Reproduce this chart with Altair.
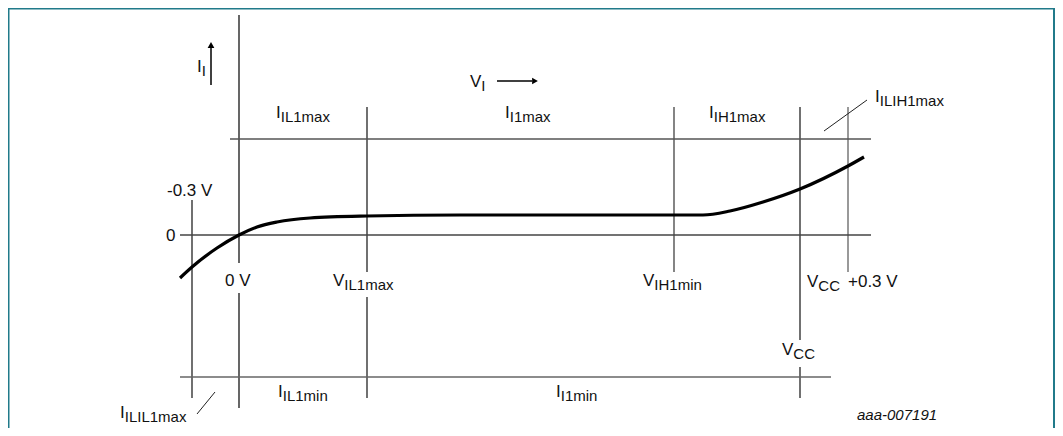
import altair as alt
import pandas as pd

# Schematic units: x = distance right of the 0 V line, y = distance above zero current
# ---- input characteristic curve ----
curve_v = [-59, -47, -22, 0, 18, 38, 71, 128, 221, 381, 464, 491, 524, 561, 609, 625]
curve_i = [-43, -32, -13, 0, 8, 13, 17, 19, 20, 20, 20, 24, 33, 46, 69, 78]

# ---- vertical reference lines (voltage levels) ----
vline_x = [-47, 0, 0, 128, 128, 435, 561, 561, 609]
vline_y1 = [35, 220, -58, 128, -62, 128, 128, -132, 128]
vline_y2 = [-163, -28, -173, -37, -163, -37, -105, -163, -37]
vline_c = ["#111111", "#000000", "#000000", "#111111", "#111111", "#333333", "#111111", "#111111", "#555555"]

# ---- horizontal reference lines (current levels) ----
hline_y = [96, 0, -142]
hline_x1 = [-9, -59, -59]
hline_x2 = [632, 632, 592]
hline_c = ["#555555", "#444444", "#666666"]

# ---- leader lines ----
lead_x1 = [585, -42]
lead_y1 = [104, -179]
lead_x2 = [628, -24]
lead_y2 = [135, -157]

# ---- labels with subscripts ----
lab_main = ["I", "V", "I", "I", "I", "I", "V", "V", "V", "V", "I", "I", "I"]
lab_sub = ["I", "I", "IL1max", "I1max", "IH1max", "ILIH1max", "IL1max", "IH1min",
           "CC", "CC", "IL1min", "I1min", "ILIL1max"]
lab_x = [-42, 231, 37, 266, 470, 636, 94, 404, 568, 543, 39, 317, -119]
lab_y = [163, 148, 117, 117, 117, 133, -51, -51, -52, -120, -162, -162, -183]

# ---- plain labels ----
txt = ["-0.3 V", "0", "0 V", "+0.3 V"]
txt_x = [-72, -73, -14, 609]
txt_y = [39, -6, -51, -52]

# ---- arrows ----
arrow_x1 = [-28, 258]
arrow_y1 = [150, 154]
arrow_x2 = [-28, 293]
arrow_y2 = [187, 154]
head_x = [-28, 296]
head_y = [190, 154]
head_shape = ["triangle-up", "triangle-right"]

FONT = "Liberation Sans"
MAIN = 17
SUB = 15
W = {"I": 0.278, "V": 0.667}

xs = alt.Scale(domain=[-231, 816], nice=False, zero=False)
ys = alt.Scale(domain=[-193, 227], nice=False, zero=False)

def X(f):
    return alt.X(f, type="quantitative", scale=xs, axis=None)

def Y(f):
    return alt.Y(f, type="quantitative", scale=ys, axis=None)

curve = pd.DataFrame({"v": curve_v, "i": curve_i, "o": range(len(curve_v))})
vl = pd.DataFrame({"x": vline_x, "y": vline_y1, "y2": vline_y2, "c": vline_c})
hl = pd.DataFrame({"y": hline_y, "x": hline_x1, "x2": hline_x2, "c": hline_c})
ld = pd.DataFrame({"x": lead_x1, "y": lead_y1, "x2": lead_x2, "y2": lead_y2})
ar = pd.DataFrame({"x": arrow_x1, "y": arrow_y1, "x2": arrow_x2, "y2": arrow_y2})
hd = pd.DataFrame({"x": head_x, "y": head_y, "s": head_shape})
frame = pd.DataFrame({"x": [-231, -231, 815.5], "y": [227, 227, 227],
                      "x2": [-231, 815.5, 815.5], "y2": [-193, 227, -193]})

mains = pd.DataFrame({"t": lab_main, "x": lab_x, "y": lab_y})
subs = pd.DataFrame({
    "t": lab_sub,
    "x": [x + W[m] * MAIN for x, m in zip(lab_x, lab_main)],
    "y": [y - 4 for y in lab_y],
})
plain = pd.DataFrame({"t": txt, "x": txt_x, "y": txt_y})
code = pd.DataFrame({"t": ["aaa-007191"], "x": [618], "y": [-185]})

frame_layer = alt.Chart(frame).mark_rule(color="#217a8a", strokeWidth=3).encode(
    x=X("x"), y=Y("y"), x2="x2", y2="y2")
v_layer = alt.Chart(vl).mark_rule(strokeWidth=1.2).encode(
    x=X("x"), y=Y("y"), y2="y2", color=alt.Color("c:N", scale=None))
h_layer = alt.Chart(hl).mark_rule(strokeWidth=1.5).encode(
    y=Y("y"), x=X("x"), x2="x2", color=alt.Color("c:N", scale=None))
lead_layer = alt.Chart(ld).mark_rule(strokeWidth=1, color="#222222").encode(
    x=X("x"), y=Y("y"), x2="x2", y2="y2")
arrow_layer = alt.Chart(ar).mark_rule(strokeWidth=1.5, color="#000000").encode(
    x=X("x"), y=Y("y"), x2="x2", y2="y2")
head_layer = alt.Chart(hd).mark_point(filled=True, color="#000000", opacity=1, size=45).encode(
    x=X("x"), y=Y("y"), shape=alt.Shape("s:N", scale=None))
curve_layer = alt.Chart(curve).mark_line(
    color="#000000", strokeWidth=3.2, interpolate="monotone").encode(
    x=X("v"), y=Y("i"), order="o:Q")
main_layer = alt.Chart(mains).mark_text(
    align="left", baseline="alphabetic", font=FONT, fontSize=MAIN, color="#111111").encode(
    x=X("x"), y=Y("y"), text="t:N")
sub_layer = alt.Chart(subs).mark_text(
    align="left", baseline="alphabetic", font=FONT, fontSize=SUB, color="#111111").encode(
    x=X("x"), y=Y("y"), text="t:N")
plain_layer = alt.Chart(plain).mark_text(
    align="left", baseline="alphabetic", font=FONT, fontSize=MAIN, color="#111111").encode(
    x=X("x"), y=Y("y"), text="t:N")
code_layer = alt.Chart(code).mark_text(
    align="left", baseline="alphabetic", font=FONT, fontSize=15, fontStyle="italic",
    color="#111111").encode(x=X("x"), y=Y("y"), text="t:N")

chart = alt.layer(
    frame_layer, v_layer, h_layer, lead_layer, arrow_layer, head_layer, curve_layer,
    main_layer, sub_layer, plain_layer, code_layer,
).properties(
    width=1047, height=420, padding=0,
    autosize=alt.AutoSizeParams(type="none"),
    background="#ffffff",
).configure_view(stroke=None)

chart.save("out.html", embed_options={"renderer": "svg", "actions": False})
